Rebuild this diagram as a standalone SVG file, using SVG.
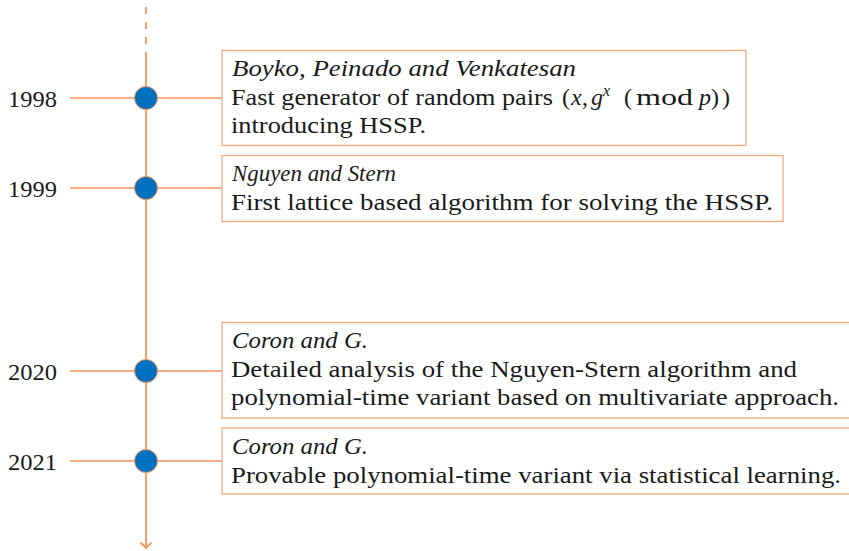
<svg xmlns="http://www.w3.org/2000/svg" width="849" height="551" viewBox="0 0 849 551">
<style>
.ln{stroke:#F7955A;stroke-width:1.3;fill:none}
.axis{stroke:#F7955A;stroke-width:1.8;fill:none}
.box{stroke:#F9A878;stroke-width:1.3;fill:#fff}
.dot{fill:#0070C0;stroke:#F7955A;stroke-width:1}
.it{font-style:italic}
</style>
<rect width="849" height="551" fill="#fff"/>
<g id="connectors">
<line class="axis" x1="146" y1="7" x2="146" y2="54" stroke-dasharray="7,8" stroke-width="2.2"/>
<line class="axis" x1="146" y1="54" x2="146" y2="548"/>
<polyline class="axis" points="140.5,542.5 146,548 151.5,542.5" stroke-width="1.4"/>
<line class="ln" x1="70" y1="98" x2="222" y2="98"/>
<line class="ln" x1="70" y1="188" x2="222" y2="188"/>
<line class="ln" x1="70" y1="371" x2="222" y2="371"/>
<line class="ln" x1="70" y1="461" x2="222" y2="461"/>
</g>
<g font-family="'Liberation Serif', 'Times New Roman', Tinos, 'DejaVu Serif', 'Noto Serif', serif" font-size="24" fill="#1a1a1a">
<g id="n1998">
<circle class="dot" cx="146" cy="98" r="11.5"/>
<text x="8" y="107" textLength="49" lengthAdjust="spacingAndGlyphs">1998</text>
<rect class="box" x="222" y="50.5" width="524" height="95"/>
<text class="it" x="232" y="76" textLength="344" lengthAdjust="spacingAndGlyphs">Boyko, Peinado and Venkatesan</text>
<text x="231" y="105" textLength="322" lengthAdjust="spacingAndGlyphs">Fast generator of random pairs</text>
<text x="562" y="105">(</text>
<text class="it" x="571" y="105">x</text>
<text x="582" y="105">,</text>
<text class="it" x="591" y="105">g</text>
<text class="it" x="603" y="96" font-size="16">x</text>
<text x="624" y="105">(</text>
<text x="636" y="105" textLength="57" lengthAdjust="spacingAndGlyphs">mod</text>
<text class="it" x="699" y="105">p</text>
<text x="711" y="105">)</text>
<text x="722" y="105">)</text>
<text x="231" y="133" textLength="195" lengthAdjust="spacingAndGlyphs">introducing HSSP.</text>
</g>
<g id="n1999">
<circle class="dot" cx="146" cy="188" r="11.5"/>
<text x="8" y="197" textLength="49" lengthAdjust="spacingAndGlyphs">1999</text>
<rect class="box" x="222" y="155.5" width="561" height="66"/>
<text class="it" x="232" y="181" textLength="164" lengthAdjust="spacingAndGlyphs">Nguyen and Stern</text>
<text x="231" y="210" textLength="542" lengthAdjust="spacingAndGlyphs">First lattice based algorithm for solving the HSSP.</text>
</g>
<g id="n2020">
<circle class="dot" cx="146" cy="371" r="11.5"/>
<text x="8" y="380" textLength="49" lengthAdjust="spacingAndGlyphs">2020</text>
<rect class="box" x="222" y="322.5" width="640" height="95.5"/>
<text class="it" x="232" y="348" textLength="136" lengthAdjust="spacingAndGlyphs">Coron and G.</text>
<text x="231" y="377" textLength="566" lengthAdjust="spacingAndGlyphs">Detailed analysis of the Nguyen-Stern algorithm and</text>
<text x="231" y="405" textLength="608" lengthAdjust="spacingAndGlyphs">polynomial-time variant based on multivariate approach.</text>
</g>
<g id="n2021">
<circle class="dot" cx="146" cy="461" r="11.5"/>
<text x="8" y="470" textLength="49" lengthAdjust="spacingAndGlyphs">2021</text>
<rect class="box" x="222" y="428" width="640" height="66"/>
<text class="it" x="232" y="454" textLength="136" lengthAdjust="spacingAndGlyphs">Coron and G.</text>
<text x="231" y="483" textLength="610" lengthAdjust="spacingAndGlyphs">Provable polynomial-time variant via statistical learning.</text>
</g>
</g>
</svg>
